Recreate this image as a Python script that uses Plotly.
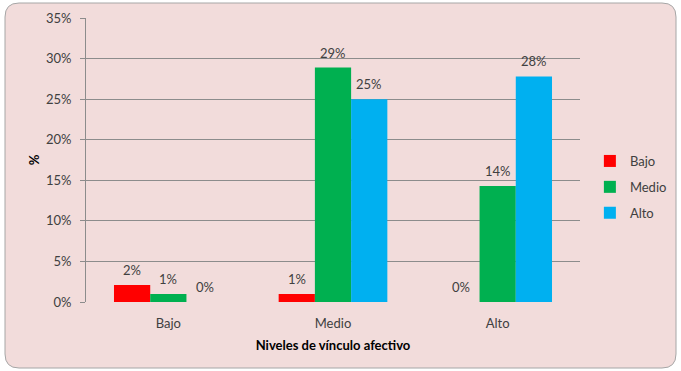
import plotly.graph_objects as go

categories = ["Bajo", "Medio", "Alto"]
series_names = ["Bajo", "Medio", "Alto"]
bajo = [2.1, 1.0, 0.0]
medio = [1.0, 28.9, 14.3]
alto = [0.0, 25.0, 27.8]
colors = ["#FF0000", "#00B050", "#00B0F0"]
y_ticks = [0, 5, 10, 15, 20, 25, 30, 35]

W, H = 681, 371
L, R, T, B = 86, 101, 18, 69
pw, ph = W - L - R, H - T - B
BARGAP = 0.34

def px(x):
    return (x - L) / pw

def py(y):
    return (H - B - y) / ph

font = "Lato, 'Open Sans', sans-serif"
fig = go.Figure()
series = [bajo, medio, alto]
bw = pw / len(categories) * (1 - BARGAP) / len(series)
for i, (name, vals) in enumerate(zip(series_names, series)):
    fig.add_trace(go.Bar(
        x=categories, y=vals, name=name, marker_color=colors[i],
        marker_line_width=0, legendgroup=name,
    ))
    for c, v in zip(categories, vals):
        fig.add_annotation(x=c, y=v, xref="x", yref="y", text=f"{round(v):.0f}%",
                           showarrow=False, yanchor="bottom", yshift=5,
                           xshift=(i - (len(series) - 1) / 2) * bw,
                           font=dict(size=13, color="#404040", family=font))

# rounded background
x0, x1, y0, y1, r = 5, 676, 3, 368, 14
path = (f"M {px(x0+r)} {py(y0)} L {px(x1-r)} {py(y0)} Q {px(x1)} {py(y0)} {px(x1)} {py(y0+r)} "
        f"L {px(x1)} {py(y1-r)} Q {px(x1)} {py(y1)} {px(x1-r)} {py(y1)} "
        f"L {px(x0+r)} {py(y1)} Q {px(x0)} {py(y1)} {px(x0)} {py(y1-r)} "
        f"L {px(x0)} {py(y0+r)} Q {px(x0)} {py(y0)} {px(x0+r)} {py(y0)} Z")
fig.add_shape(type="path", path=path, xref="paper", yref="paper", layer="below",
              fillcolor="#F2DCDB", line=dict(color="#A6A6A6", width=1))

fig.update_layout(
    width=W, height=H, margin=dict(l=L, r=R, t=T, b=B, autoexpand=False),
    paper_bgcolor="white", plot_bgcolor="rgba(0,0,0,0)",
    barmode="group", bargap=BARGAP, bargroupgap=0,
    font=dict(family=font, size=13, color="#404040"),
    showlegend=True,
    legend=dict(x=1.02, y=py(187), yanchor="middle", xanchor="left",
                bgcolor="rgba(0,0,0,0)", font=dict(size=13, color="#404040"),
                tracegroupgap=6, itemwidth=30),
    xaxis=dict(showgrid=False, showline=False, ticks="", ticklabelstandoff=12,
               tickfont=dict(size=13, color="#404040"),
               title=dict(text="<b>Niveles de vínculo afectivo</b>", font=dict(size=13, color="#000000"), standoff=10)),
    yaxis=dict(range=[0, 35], tickvals=y_ticks, ticktext=[f"{v}%" for v in y_ticks],
               showgrid=True, gridcolor="#8C8C8C", gridwidth=1,
               showline=True, linecolor="#8C8C8C", ticks="outside", ticklen=5, tickcolor="#8C8C8C",
               ticklabelstandoff=6,
               zeroline=False, tickfont=dict(size=13, color="#404040"),
               title=dict(text="<b>%</b>", font=dict(size=13, color="#000000"), standoff=3)),
)
fig.write_html("out.html")
